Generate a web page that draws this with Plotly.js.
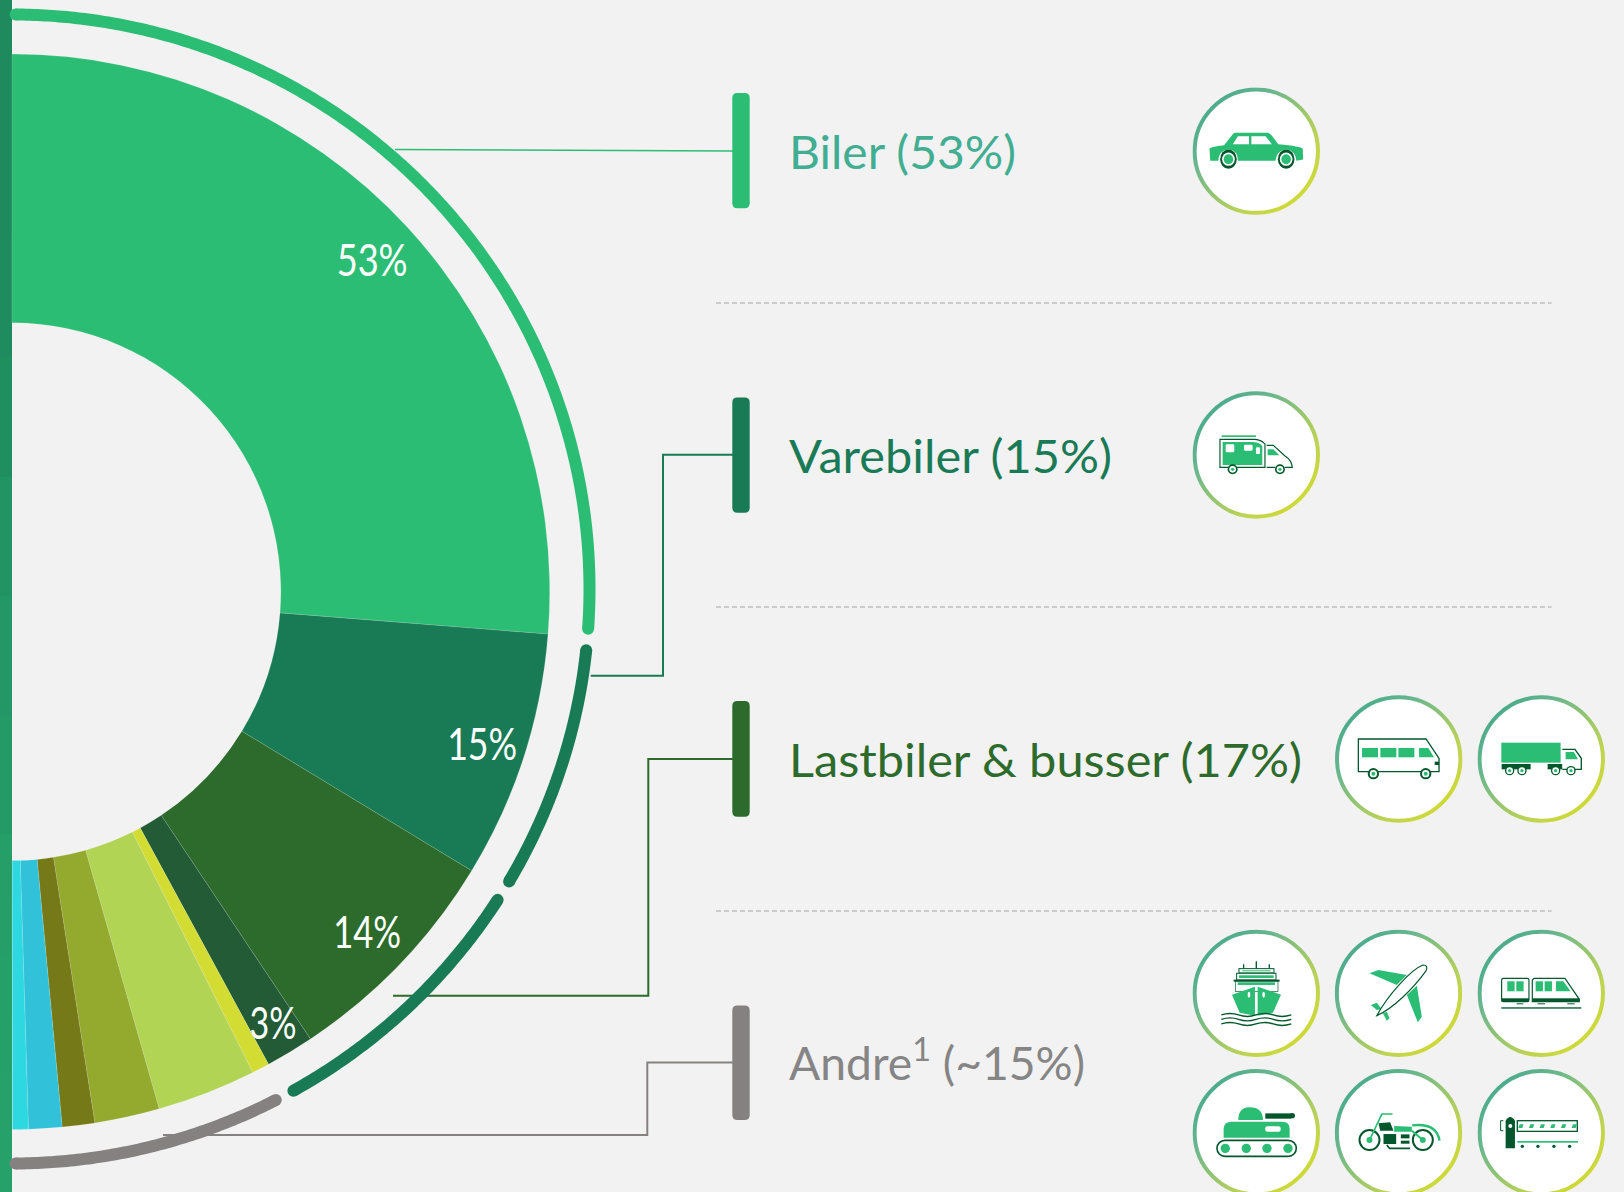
<!DOCTYPE html>
<html><head><meta charset="utf-8">
<script src="https://cdn.plot.ly/plotly-3.0.1.min.js"></script>
<style>
html,body{margin:0;padding:0;background:#f2f2f2;overflow:hidden;width:1624px;height:1192px}
#chart{position:absolute;left:-526px;top:0;width:2150px;height:1192px}
</style></head><body><div id="chart"></div>
<script>
// Data
const sliceNames  = ['Biler','Varebiler','Lastbiler','Busser','Andre a','Andre b','Andre c','Andre d','Andre e','Andre f','(skjult halvdel)'];
const sliceValues = [52.5,14.85,13.9,2.9,1.05,5.95,3.9,1.95,2.0,0.95,100];
const sliceColors = ['#2cbd75','#197b56','#2c6b2b','#225b35','#d2dc32','#b1d455','#93aa2f','#767917','#31c1d9','#2ed8e0','rgba(0,0,0,0)'];
const sliceTexts  = ['53%','15%','14%','3%'];
const ringStart   = [0.2,53.4,68.2,84.9];
const ringEnd     = [52.2,67.0,83.8,99.8];
const ringColors  = ['#2cbd75','#197b56','#197b56','#858180'];
const legendTexts = ['Biler (53%)','Varebiler (15%)','Lastbiler &amp; busser (17%)','Andre<sup>1</sup> (~15%)'];
const legendColors= ['#41ae92','#197b56','#2c6b2b','#858585'];
const barColors   = ['#2cbd75','#197b56','#2c6b2b','#858180'];
const stripColors = ['#1f8a5e','#1f8a5e','#1f8c5f','#208f60','#229464','#239866','#249b67','#259e68','#25a068','#26a169'];

// Layout constants
const W=2150,H=1192,OX=526,CX=12,CY=591.7,R=537.7;
const RX=577.5,RY=574.5,RCY=589;
const px0=OX+CX, pyb=H-CY;
const FONT='Lato';

const traces=[];
ringStart.forEach((s,i)=>{
  const xs=[],ys=[],sz=[];
  const n=Math.round((ringEnd[i]-s)/0.2);
  for(let k=0;k<=n;k++){
    const t=(s+(ringEnd[i]-s)*k/n)*1.8*Math.PI/180;
    xs.push(CX+RX*Math.sin(t)); ys.push(RCY-RY*Math.cos(t));
    sz.push(k===0||k===n?12:0);
  }
  traces.push({type:'scatter',mode:'lines+markers',x:xs,y:ys,hoverinfo:'skip',showlegend:false,cliponaxis:false,
    line:{color:ringColors[i],width:12,simplify:false},marker:{size:sz,color:ringColors[i],opacity:1,line:{width:0}}});
});
traces.push({type:'pie',labels:sliceNames,values:sliceValues,sort:false,direction:'clockwise',rotation:0,hole:0.5,
  textinfo:'none',hoverinfo:'skip',showlegend:false,
  domain:{x:[(px0-R)/W,(px0+R)/W],y:[(pyb-R)/H,(pyb+R)/H]},
  marker:{colors:sliceColors,line:{color:sliceColors.map((c,i)=>i===10?'rgba(0,0,0,0)':'rgba(255,255,255,0.22)'),width:0.6}}});

function rr(x0,y0,x1,y1,r){return `M${x0+r},${y0} L${x1-r},${y0} Q${x1},${y0} ${x1},${y0+r} L${x1},${y1-r} Q${x1},${y1} ${x1-r},${y1} L${x0+r},${y1} Q${x0},${y1} ${x0},${y1-r} L${x0},${y0+r} Q${x0},${y0} ${x0+r},${y0} Z`;}
const shapes=[];
const sh=(o)=>shapes.push(Object.assign({xref:'x',yref:'y'},o));
const bandH=H/stripColors.length;
stripColors.forEach((c,i)=>sh({type:'rect',x0:-5,x1:12,y0:i*bandH,y1:(i+1)*bandH+1,fillcolor:c,line:{width:0},layer:'below'}));
[303,607,911].forEach(y=>sh({type:'line',x0:716,x1:1551.5,y0:y,y1:y,line:{color:'#bfbfbf',width:1.5,dash:'5px,3px'},layer:'below'}));
const lead=[
  ['M395,149.5 L733,151',barColors[0],1.5],
  ['M590.7,675.7 L663,675.7 L663,454.7 L733,454.7',barColors[1],2],
  ['M393,995.7 L648.3,995.7 L648.3,759 L733,759',barColors[2],2],
  ['M163,1135 L647.3,1135 L647.3,1062.6 L733,1062.6',barColors[3],2]];
lead.forEach(l=>sh({type:'path',path:l[0],line:{color:l[1],width:l[2]},fillcolor:'rgba(0,0,0,0)',layer:'below'}));
[[93,208.3],[397.5,512.7],[701,816.7],[1005.5,1120]].forEach((b,i)=>sh({type:'path',path:rr(732.3,b[0],749.7,b[1],5),fillcolor:barColors[i],line:{width:0},layer:'above'}));

const anns=[];
const pctPos=[[372,259],[481.7,743],[367,930.5],[272.5,1021.5]], pctW=[71,70,68,47];
const legPos=[[788,151],[788,455.4],[788,759],[788,1059.5]], legW=[227,323,513,296];
pctPos.forEach((p,i)=>anns.push({x:p[0],y:p[1],xref:'x',yref:'y',text:sliceTexts[i],showarrow:false,
  xanchor:'center',yanchor:'middle',borderpad:0,font:{family:FONT,size:45,color:'#ffffff'}}));
legPos.forEach((p,i)=>anns.push({x:p[0],y:p[1],xref:'x',yref:'y',text:legendTexts[i],showarrow:false,
  xanchor:'left',yanchor:'middle',borderpad:0,font:{family:FONT,size:46,color:legendColors[i]}}));

const G='#2cbd75',D='#04572d';
const wheel=(x,y,a,b,c)=>`<circle cx="${x}" cy="${y}" r="${a}" fill="${D}"/><circle cx="${x}" cy="${y}" r="${b}" fill="#fff"/><circle cx="${x}" cy="${y}" r="${c}" fill="${G}"/>`;
const car=`<g transform="translate(-1416.8,-51)"><g transform="scale(1.186,1)">
<path fill="${G}" d="M1238,235 Q1240,230 1275,225 L1297,192 Q1299,188 1305,188 L1385,188 Q1392,190 1397,198 L1412,222 Q1470,228 1474,236 L1475,268 L1458,272 Q1455,240 1432,238 Q1408,240 1405,272 L1310,272 Q1310,240 1286,238 Q1262,240 1260,272 L1240,272 Z"/>
<path fill="#fff" d="M1297,222 L1310,198 L1338,198 L1338,222Z M1344,198 L1380,198 L1396,222 L1344,222 Z"/>
<ellipse cx="1286" cy="267" rx="21" ry="29" fill="${D}"/><ellipse cx="1286" cy="267" rx="16" ry="20" fill="#fff"/><ellipse cx="1286" cy="267" rx="12" ry="15" fill="${G}"/>
<ellipse cx="1432" cy="267" rx="21" ry="29" fill="${D}"/><ellipse cx="1432" cy="267" rx="16" ry="20" fill="#fff"/><ellipse cx="1432" cy="267" rx="12" ry="15" fill="${G}"/>
</g></g>`;
const van=`<g transform="translate(${192-259},${192-225})">
<rect x="155" y="166" width="103" height="5" fill="${G}"/>
<path d="M150,178 L255,178 Q275,180 285,192 L285,262 L150,262 Z" fill="#fff" stroke="${D}" stroke-width="3.5"/>
<path d="M158,186 L250,186 Q270,188 277,198 L277,255 L158,255Z" fill="${G}"/>
<rect x="167" y="193" width="26" height="24" rx="4" fill="#fff"/><rect x="222" y="194" width="26" height="18" rx="4" fill="#fff"/><rect x="258" y="202" width="12" height="20" rx="3" fill="#fff"/>
<path d="M290,196 L310,196 L345,228 Q365,240 367,262 L345,262 M315,262 L290,262" fill="none" stroke="${D}" stroke-width="3.5"/>
<path d="M293,208 L310,208 L328,226 L293,226 Z" fill="${G}"/>
${wheel(188,268,15,10,5)}${wheel(330,268,15,10,5)}</g>`;
const bus=`<g transform="translate(${192-236},${192-237})">
<path d="M115,177 L318,177 L357,235 L357,275 L115,275 Z" fill="#fff" stroke="${D}" stroke-width="4"/>
<rect x="126" y="204" width="48" height="28" fill="${G}"/><rect x="181" y="204" width="48" height="28" fill="${G}"/><rect x="235" y="204" width="48" height="28" fill="${G}"/>
<path d="M297,204 L325,204 L342,232 L297,232 Z" fill="${G}"/><rect x="344" y="245" width="13" height="10" fill="${D}"/>
${wheel(160,281,17,11,6)}${wheel(317,281,17,11,6)}</g>`;
const truck=`<g transform="translate(${192-664},${192-237})">
<rect x="544" y="188" width="178" height="60" fill="${G}"/>
<rect x="545" y="252" width="87" height="16" fill="${D}"/><rect x="683" y="252" width="45" height="16" fill="${D}"/>
<path d="M727,208 L765,208 L784,235 L784,268 L727,268" fill="#fff" stroke="${D}" stroke-width="4"/>
<path d="M737,216 L762,216 L774,238 L737,238 Z" fill="${G}"/>
${wheel(569,272,14,10,5)}${wheel(606,272,14,10,5)}${wheel(707,272,14,10,5)}${wheel(753,272,14,10,5)}</g>`;
const waves=[285,298,312].map(y=>`<path d="M123,${y} q26,-9 52,0 t52,0 t52,0 t54,0" fill="none" stroke="${D}" stroke-width="4"/>`).join('');
const ship=`<g transform="translate(${192-228},${192-220})">
<rect x="226" y="124" width="4" height="24" fill="${D}"/><rect x="188" y="133" width="4" height="15" fill="${D}"/><rect x="265" y="133" width="4" height="15" fill="${D}"/>
<rect x="176" y="146" width="105" height="13" fill="#fff" stroke="${D}" stroke-width="3"/><rect x="186" y="151" width="85" height="3" fill="${G}"/>
<rect x="169" y="160" width="118" height="20" fill="#fff" stroke="${D}" stroke-width="3"/><rect x="176" y="166" width="104" height="8" fill="${G}"/>
<rect x="160" y="179" width="138" height="6" fill="${D}"/><rect x="165" y="185" width="128" height="30" fill="#fff" stroke="${D}" stroke-width="2"/><rect x="172" y="187" width="112" height="8" fill="${G}"/>
<path fill="${G}" d="M155,224 L224,200 L224,287 L178,278 Z M232,200 L302,224 L278,278 L232,287 Z"/>
<ellipse cx="206" cy="224" rx="4" ry="9" fill="#fff"/><ellipse cx="250" cy="224" rx="4" ry="9" fill="#fff"/>${waves}</g>`;
const plane=`<g transform="translate(${192-655},${192-220})">
<path fill="${G}" d="M568,160 L595,150 L680,165 L650,195 Z M680,225 L710,197 L725,290 L713,307 Z M572,255 L590,248 L605,268 L590,270 Z M608,280 L620,275 L628,295 L620,302Z"/>
<path fill="#fff" stroke="${D}" stroke-width="3.5" d="M590,287 C620,230 690,150 728,135 Q745,135 738,152 C700,205 640,265 590,287Z"/></g>`;
const train=`<g transform="translate(${192-1084},${192-220})">
<rect x="965" y="175" width="82" height="70" rx="5" fill="#fff" stroke="${D}" stroke-width="3.5"/><rect x="965" y="235" width="82" height="10" fill="${D}"/>
<rect x="982" y="184" width="22" height="30" fill="${G}"/><rect x="1009" y="184" width="22" height="30" fill="${G}"/>
<path d="M1062,175 L1155,175 L1198,238 L1198,245 L1057,245 L1057,180 Z" fill="#fff" stroke="${D}" stroke-width="3.5"/><rect x="1057" y="235" width="141" height="10" fill="${D}"/>
<rect x="1067" y="184" width="22" height="30" fill="${G}"/><rect x="1094" y="184" width="22" height="30" fill="${G}"/><path d="M1128,184 L1150,184 L1172,214 L1128,214Z" fill="${G}"/>
<rect x="1010" y="250" width="20" height="3" fill="${D}"/><rect x="1073" y="250" width="22" height="3" fill="${D}"/><rect x="1162" y="250" width="22" height="3" fill="${D}"/>
<rect x="964" y="262" width="240" height="4" fill="${D}"/></g>`;
const tank=`<g transform="translate(${192-228},${192-218})">
<path fill="${G}" d="M174,180 Q174,142 208,142 Q248,142 248,180Z M130,233 L130,205 Q130,185 155,185 L305,185 Q328,185 328,205 L328,233Z"/>
<rect x="255" y="160" width="78" height="16" fill="${D}"/><circle cx="336" cy="167" r="8" fill="${D}"/>
<rect x="255" y="199" width="46" height="16" rx="6" fill="#fff"/>
<rect x="110" y="241" width="238" height="48" rx="24" fill="#fff" stroke="${D}" stroke-width="5"/>
<circle cx="135" cy="265" r="14" fill="${G}"/><circle cx="198" cy="265" r="14" fill="${G}"/><circle cx="260" cy="265" r="14" fill="${G}"/><circle cx="323" cy="265" r="14" fill="${G}"/></g>`;
const moto=`<g transform="translate(${192-655},${192-218})">
<circle cx="568" cy="240" r="30" fill="#fff" stroke="${D}" stroke-width="6"/><circle cx="728" cy="240" r="30" fill="#fff" stroke="${D}" stroke-width="6"/>
<circle cx="568" cy="240" r="9" fill="${G}"/><circle cx="728" cy="240" r="9" fill="${G}"/>
<path d="M568,240 L605,162 L637,162" fill="none" stroke="${G}" stroke-width="5"/>
<path d="M595,190 L630,187 L640,212 L600,212 Z" fill="${D}"/><rect x="610" y="222" width="38" height="30" fill="${D}"/>
<path d="M642,198 L695,200 L695,215 L642,215Z" fill="${G}"/><rect x="662" y="223" width="26" height="12" fill="${D}"/><rect x="662" y="242" width="26" height="9" fill="${D}"/>
<path d="M696,196 Q770,188 778,242" fill="none" stroke="${G}" stroke-width="7"/><path d="M695,212 L728,240" stroke="${G}" stroke-width="6"/>
<path d="M620,255 L628,265 L690,265" fill="none" stroke="${D}" stroke-width="5"/></g>`;
const gate=`<g transform="translate(${192-1084},${192-218})">
<path d="M977,265 L977,182 Q990,160 1005,182 L1005,265Z" fill="${D}"/><circle cx="991" cy="198" r="6" fill="#fff"/>
<path d="M970,182 L962,182 L962,212 L970,212" fill="none" stroke="${D}" stroke-width="3"/>
<rect x="1012" y="182" width="180" height="32" fill="#fff" stroke="${D}" stroke-width="4"/>
${[1015,1047,1079,1111,1143,1175].map(x=>`<path d="M${x+4},193 L${x+16},193 L${x+12},204 L${x},204 Z" fill="${G}"/>`).join('')}
<rect x="1012" y="243" width="182" height="5" fill="${G}"/>
${[1027,1074,1122,1169].map(x=>`<circle cx="${x}" cy="259" r="5" fill="${D}"/>`).join('')}</g>`;
const iconList=[[1256.3,151.2,car],[1256.3,455,van],[1398.7,759,bus],[1541.3,759,truck],
 [1256.3,993.3,ship],[1398.5,993.3,plane],[1541.3,993.3,train],[1256.3,1132.7,tank],[1398.5,1132.7,moto],[1541.3,1132.7,gate]];
const images=iconList.map(ic=>({
  source:'data:image/svg+xml;charset=utf-8,'+encodeURIComponent(`<svg xmlns="http://www.w3.org/2000/svg" width="384" height="384" viewBox="0 0 384 384"><defs><linearGradient id="g" x1="0.12" y1="0.12" x2="0.88" y2="0.88"><stop offset="0" stop-color="#4aab8c"/><stop offset="0.25" stop-color="#68b68e"/><stop offset="0.75" stop-color="#bdd355"/><stop offset="1" stop-color="#d0da34"/></linearGradient></defs><circle cx="192" cy="192" r="185" fill="#fff" stroke="url(#g)" stroke-width="12"/>${ic[2]}</svg>`),
  xref:'x',yref:'y',x:ic[0],y:ic[1],sizex:128,sizey:128,xanchor:'center',yanchor:'middle',sizing:'stretch',layer:'above'}));

Plotly.newPlot('chart',traces,{
  width:W,height:H,margin:{l:0,r:0,t:0,b:0,pad:0},paper_bgcolor:'#f2f2f2',plot_bgcolor:'rgba(0,0,0,0)',showlegend:false,
  xaxis:{range:[-OX,W-OX],visible:false,fixedrange:true},
  yaxis:{range:[H,0],visible:false,fixedrange:true},
  shapes:shapes,annotations:anns,images:images,hovermode:false
},{displayModeBar:false,staticPlot:true}).then(()=>{
  // fit the narrower source lettering: set each label's drawn width
  const targets=pctW.concat(legW);
  document.querySelectorAll('.annotation-text').forEach((el,i)=>{
    const b=el.getBBox(), t=targets[i];
    const x=i<pctW.length? b.x+(b.width-t)/2 : b.x;
    el.setAttribute('text-anchor','start');
    el.setAttribute('x',x);
    el.setAttribute('textLength',t);
    el.setAttribute('lengthAdjust','spacingAndGlyphs');
  });
  document.querySelectorAll('#chart svg text').forEach(t=>{ if(!t.textContent.trim()) t.remove(); });
});
</script></body></html>
